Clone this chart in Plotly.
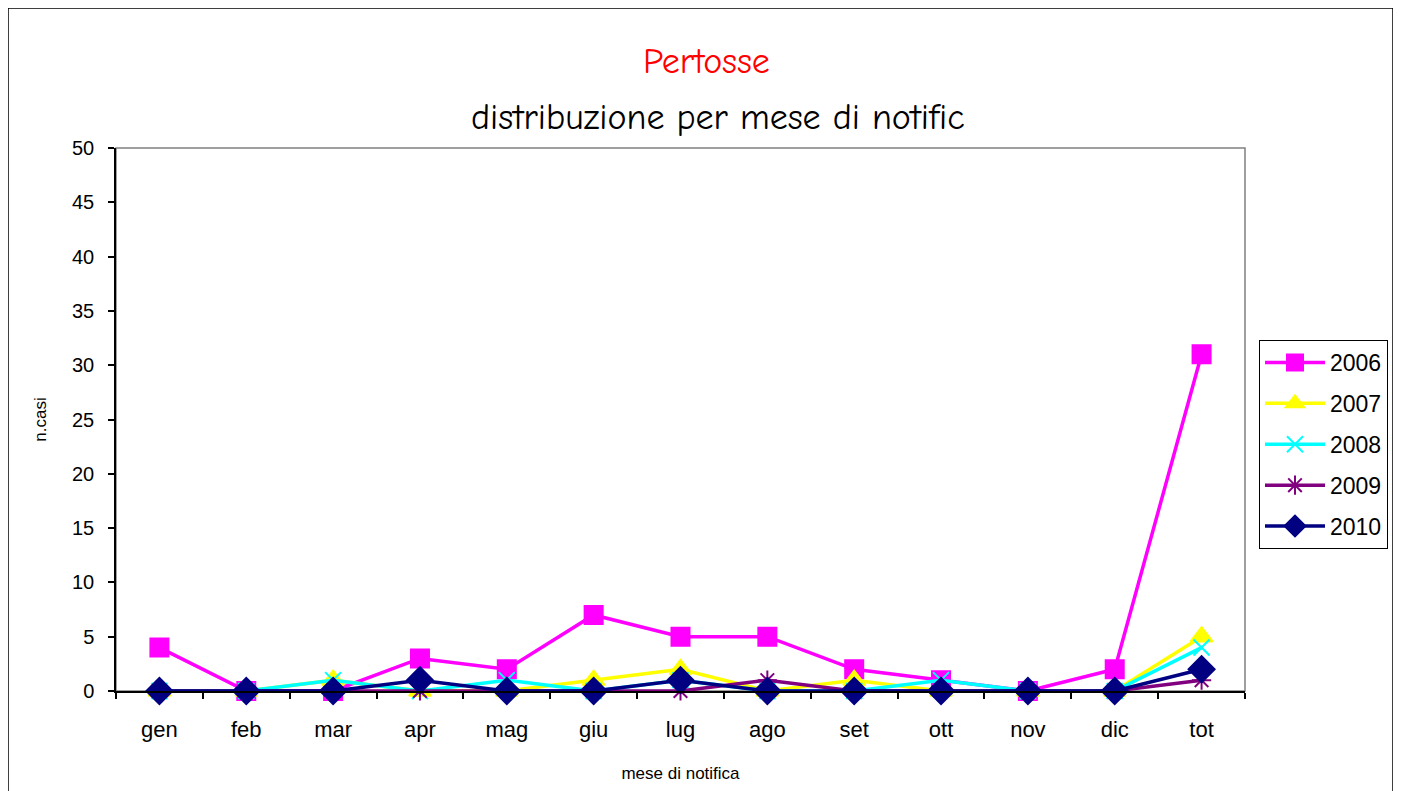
import plotly.graph_objects as go

months = ["gen", "feb", "mar", "apr", "mag", "giu", "lug", "ago", "set", "ott", "nov", "dic", "tot"]
y2006 = [4, 0, 0, 3, 2, 7, 5, 5, 2, 1, 0, 2, 31]
y2007 = [0, 0, 1, 0, 0, 1, 2, 0, 1, 0, 0, 0, 5]
y2008 = [0, 0, 1, 0, 1, 0, 1, 0, 0, 1, 0, 0, 4]
y2009 = [0, 0, 0, 0, 0, 0, 0, 1, 0, 0, 0, 0, 1]
y2010 = [0, 0, 0, 1, 0, 0, 1, 0, 0, 0, 0, 0, 2]
series_names = ["2006", "2007", "2008", "2009", "2010"]
yticks = [0, 5, 10, 15, 20, 25, 30, 35, 40, 45, 50]

styles = [
    dict(color="#FF00FF", symbol="square", size=18),
    dict(color="#FFFF00", symbol="triangle-up", size=19),
    dict(color="#00FFFF", symbol="x-thin-open", size=16),
    dict(color="#800080", symbol="asterisk-open", size=16),
    dict(color="#000080", symbol="diamond", size=20),
]

fig = go.Figure()
for name, vals, st in zip(series_names, [y2006, y2007, y2008, y2009, y2010], styles):
    fig.add_trace(go.Scatter(
        x=months, y=vals, name=name, mode="lines+markers",
        line=dict(color=st["color"], width=3.5),
        marker=dict(symbol=st["symbol"], size=st["size"], color=st["color"],
                    line=dict(color=st["color"], width=2)),
        cliponaxis=False, legendgroup=name,
    ))

# page body has an 8px margin; reference pixel coords are shifted by OFF
OFF = 8
W, H = 1401 - OFF, 791 - OFF
L, R, T, B = 116 - OFF, 1245 - OFF, 148 - OFF, 691 - OFF
pw, ph = R - L, B - T

def px(x):
    return (x - OFF - L) / pw

def py(y):
    return (B - (y - OFF)) / ph

fig.update_layout(
    width=W, height=H,
    margin=dict(l=L, r=W - R, t=T, b=H - B),
    paper_bgcolor="white", plot_bgcolor="white",
    font=dict(family="Arial, Liberation Sans, sans-serif", color="black"),
    showlegend=True,
    legend=dict(x=px(1259), y=py(340), xanchor="left", yanchor="top",
                bordercolor="black", borderwidth=1, bgcolor="white",
                font=dict(size=23, family="Arial, Liberation Sans, sans-serif"),
                tracegroupgap=8, itemwidth=60),
    xaxis=dict(type="category", range=[-0.5, 12.5], tickson="boundaries",
               ticks="outside", ticklen=6, tickcolor="black", tickwidth=1.5,
               showline=True, linecolor="black", linewidth=1.5, showgrid=False,
               tickfont=dict(size=22), ticklabelstandoff=18,
               title=dict(text="mese di notifica", font=dict(size=17), standoff=26),
               zeroline=False),
    yaxis=dict(range=[0, 50], tickvals=yticks, ticks="outside", ticklen=6,
               tickcolor="black", tickwidth=1.5, showline=True, linecolor="black",
               linewidth=1.5, showgrid=False, zeroline=False,
               tickfont=dict(size=20), ticklabelstandoff=10,
               title=dict(text="n.casi", font=dict(size=17), standoff=21)),
    shapes=[
        dict(type="rect", xref="paper", yref="paper", x0=0, x1=1, y0=0, y1=1,
             line=dict(color="#808080", width=1.5), layer="below"),
        dict(type="rect", xref="paper", yref="paper", x0=px(8), x1=px(1393),
             y0=py(8), y1=py(800), line=dict(color="black", width=1.5), layer="below"),
    ],
    annotations=[
        dict(text="Pertosse", xref="paper", yref="paper", x=px(706), y=py(62),
             xanchor="center", yanchor="middle", showarrow=False,
             font=dict(size=36, color="red", family="Comic Sans MS, Comic Neue, Lato, sans-serif")),
        dict(text="distribuzione per mese di notific", xref="paper", yref="paper",
             x=px(718), y=py(118), xanchor="center", yanchor="middle", showarrow=False,
             font=dict(size=36, color="black", family="Comic Sans MS, Comic Neue, Lato, sans-serif")),
    ],
)

fig.write_html("out.html")
